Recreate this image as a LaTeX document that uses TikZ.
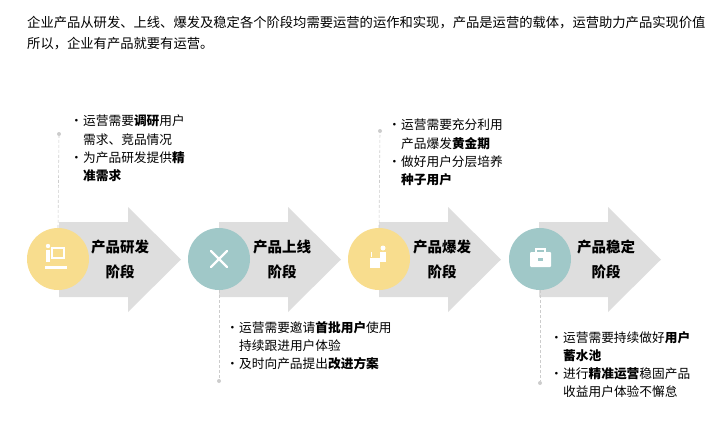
\documentclass[tikz,border=0pt]{standalone}
\usepackage{fontspec}
\setmainfont{Noto Sans CJK SC}
\newcommand{\bl}{\makebox[13pt][l]{·}}
\newcommand{\ct}{\hspace*{13pt}}
\begin{document}
\begin{tikzpicture}[x=1pt,y=-1pt,
  arr/.style={fill=arrgray,draw=none},
  yel/.style={circle,fill=cyel,minimum size=62pt,inner sep=0pt},
  tea/.style={circle,fill=ctea,minimum size=62pt,inner sep=0pt},
  lbl/.style={font=\fontsize{14.5}{25}\selectfont\bfseries,align=center},
  txt/.style={font=\fontsize{12.7}{18.2}\selectfont,align=left,anchor=north west,inner sep=0pt},
  dl/.style={densely dashed,draw=black!20,line width=0.6pt},
  dotn/.style={circle,fill=black!20,inner sep=0pt,minimum size=4pt},
  ic/.style={fill=white,draw=none}]
\definecolor{arrgray}{HTML}{DEDEDE}
\definecolor{cyel}{HTML}{F8DD8E}
\definecolor{ctea}{HTML}{A0C8C8}
\useasboundingbox (0,0) rectangle (720,429);
\node[anchor=west,font=\fontsize{13.3}{16}\selectfont,inner sep=0pt] (h1) at (27,23) {企业产品从研发、上线、爆发及稳定各个阶段均需要运营的运作和实现，产品是运营的载体，运营助力产品实现价值};
\node[anchor=west,font=\fontsize{13.3}{16}\selectfont,inner sep=0pt] (h2) at (27,44) {所以，企业有产品就要有运营。};
\foreach \i in {0,1,2,3}{
  \fill[arr] ({59+160*\i},222) -- ({128+160*\i},222) -- ({128+160*\i},207) -- ({181+160*\i},259.5) -- ({128+160*\i},312) -- ({128+160*\i},297) -- ({59+160*\i},297) -- cycle;
}
\node[yel] (c1) at (58,259) {};
\node[tea] (c2) at (219,259) {};
\node[yel] (c3) at (379,259) {};
\node[tea] (c4) at (540,259) {};
\node[lbl] (l1) at (120,259) {产品研发\\阶段};
\node[lbl] (l2) at (282,259) {产品上线\\阶段};
\node[lbl] (l3) at (442,259) {产品爆发\\阶段};
\node[lbl] (l4) at (606,259) {产品稳定\\阶段};
% icons
\fill[ic] (46,250) rectangle (50,262); \fill[ic] (48,246) circle (2.2);
\draw[white,line width=1.2pt] (52,248) rectangle (64,258);
\fill[ic] (45,266) rectangle (67,269);
\draw[white,line width=2.2pt,line cap=round] (211,251) -- (227,267);
\draw[white,line width=2.2pt,line cap=round] (227,251) -- (211,267);
\fill[ic] (370,258) rectangle (380,268); \fill[ic] (383,248) circle (2.5);
\fill[ic] (380,252) rectangle (386,262); \draw[white,line width=1pt] (371,252)--(371,257);
\fill[ic,rounded corners=1pt] (530,252) rectangle (551,267);
\draw[white,line width=1.2pt] (536,252) -- (536,249) -- (545,249) -- (545,252);
\fill[ctea] (538,258) rectangle (543,261);
% dashed leaders
\node[dotn] (d1) at (59,134) {};
\node[dotn] (d2) at (219,381) {};
\node[dotn] (d3) at (380,131) {};
\node[dotn] (d4) at (540,383) {};
\draw[dl] (c1.north) -- (d1); \draw[dl] (c2.south) -- (d2);
\draw[dl] (c3.north) -- (d3); \draw[dl] (c4.south) -- (d4);
% texts
\node[txt] (t1) at (70,115) {\bl 运营需要\textbf{调研}用户\\\ct 需求、竞品情况\\\bl 为产品研发提供\textbf{精}\\\ct\textbf{准需求}};
\node[txt] (t2) at (226,321) {\bl 运营需要邀请\textbf{首批用户}使用\\\ct 持续跟进用户体验\\\bl 及时向产品提出\textbf{改进方案}};
\node[txt] (t3) at (388,119) {\bl 运营需要充分利用\\\ct 产品爆发\textbf{黄金期}\\\bl 做好用户分层培养\\\ct\textbf{种子用户}};
\node[txt] (t4) at (550,331) {\bl 运营需要持续做好\textbf{用户}\\\ct\textbf{蓄水池}\\\bl 进行\textbf{精准运营}稳固产品\\\ct 收益用户体验不懈怠};
\end{tikzpicture}
\end{document}
